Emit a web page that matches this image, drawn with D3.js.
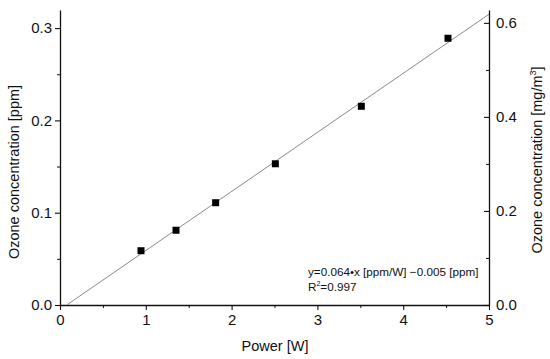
<!DOCTYPE html>
<html>
<head>
<meta charset="utf-8">
<script src="https://cdn.jsdelivr.net/npm/d3@7"></script>
<style>
body { margin: 0; background: #fff; }
svg text { font-family: "Liberation Sans", Arial, sans-serif; fill: #111; }
</style>
</head>
<body>
<div id="chart"></div>
<script>
// data
var power = [0.944, 1.352, 1.814, 2.51, 3.512, 4.522];
var ozonePpm = [0.0588, 0.081, 0.1108, 0.153, 0.2153, 0.289];
var fitSlope = 0.064;
var fitIntercept = -0.005;
var xTicks = [0, 1, 2, 3, 4, 5];
var yTicksLeft = [0.0, 0.1, 0.2, 0.3];
var yTicksRight = [0.0, 0.2, 0.4, 0.6];
var ppmToMg = 1.963;

var svg = d3.select("#chart").append("svg").attr("width", 550).attr("height", 359);

var xScale = d3.scaleLinear().domain([0, 5]).range([60, 489]);
var yScale = d3.scaleLinear().domain([0, 0.3196]).range([305, 10]);
var yScaleR = d3.scaleLinear().domain([0, 0.3196 * ppmToMg]).range([305, 10]);

// minor ticks
svg.append('g').attr('transform', 'translate(0,305)')
    .call(d3.axisBottom(xScale).tickValues(d3.range(0.5, 5, 1)).tickSize(3).tickFormat(''))
    .call(function(g){ g.select('.domain').remove(); });
svg.append('g').attr('transform', 'translate(60,0)')
    .call(d3.axisLeft(yScale).tickValues([0.05, 0.15, 0.25]).tickSize(3).tickFormat(''))
    .call(function(g){ g.select('.domain').remove(); });
svg.append('g').attr('transform', 'translate(489,0)')
    .call(d3.axisLeft(yScaleR).tickValues([0.1, 0.3, 0.5]).tickSize(3).tickFormat(''))
    .call(function(g){ g.select('.domain').remove(); });

// main axes
var xAxis = svg.append('g').attr('transform', 'translate(0,305)')
    .call(d3.axisBottom(xScale).tickValues(xTicks).tickSize(5).tickSizeOuter(0).tickPadding(4).tickFormat(d3.format('d')));
var yAxis = svg.append('g').attr('transform', 'translate(60,0)')
    .call(d3.axisLeft(yScale).tickValues(yTicksLeft).tickSize(5).tickSizeOuter(0).tickPadding(3).tickFormat(d3.format('.1f')));
var yAxisR = svg.append('g').attr('transform', 'translate(489,0)')
    .call(d3.axisRight(yScaleR).tickValues(yTicksRight).tickSize(0).tickSizeOuter(0).tickPadding(7).tickFormat(d3.format('.1f')));
yAxisR.selectAll('.tick line').attr('x2', -5);

[xAxis, yAxis, yAxisR].forEach(function(a){
    a.selectAll('text').attr('font-size', 15).attr('font-family', '"Liberation Sans", Arial, sans-serif').attr('fill', '#111');
    a.select('.domain').attr('stroke', '#111').attr('stroke-width', 1.3);
    a.selectAll('.tick line').attr('stroke', '#111').attr('stroke-width', 1.1);
});
svg.selectAll('.tick line').attr('stroke', '#111');

// fit line
var x0 = -fitIntercept / fitSlope;
svg.append('line')
    .attr('x1', xScale(x0)).attr('y1', yScale(0))
    .attr('x2', xScale(5)).attr('y2', yScale(fitSlope * 5 + fitIntercept))
    .attr('stroke', '#8a8a8a').attr('stroke-width', 1);

// points
var pts = power.map(function(p, i){ return {x: p, y: ozonePpm[i]}; });
svg.selectAll('.pt').data(pts).enter().append('rect')
    .attr('class', 'pt')
    .attr('x', function(d){ return xScale(d.x) - 3.5; })
    .attr('y', function(d){ return yScale(d.y) - 3.5; })
    .attr('width', 7).attr('height', 7)
    .attr('fill', '#000');

// labels
svg.append('text').attr('x', 275).attr('y', 351).attr('text-anchor', 'middle')
    .attr('font-size', 14.5).text('Power [W]');
svg.append('text').attr('transform', 'translate(19,172) rotate(-90)').attr('text-anchor', 'middle')
    .attr('font-size', 14.5).text('Ozone concentration [ppm]');
var rl = svg.append('text').attr('transform', 'translate(542,160) rotate(-90)').attr('text-anchor', 'middle')
    .attr('font-size', 14.5);
rl.append('tspan').text('Ozone concentration [mg/m');
rl.append('tspan').attr('font-size', 9).attr('dy', -6).text('3');
rl.append('tspan').attr('dy', 6).text(']');

// fit annotation
svg.append('text').attr('x', 308).attr('y', 276).attr('font-size', 11.7)
    .text('y=0.064\u2022x [ppm/W] \u22120.005 [ppm]');
var r2 = svg.append('text').attr('x', 308).attr('y', 291).attr('font-size', 11.7);
r2.append('tspan').text('R');
r2.append('tspan').attr('font-size', 7).attr('dy', -5).text('2');
r2.append('tspan').attr('dy', 5).text('=0.997');
</script>
</body>
</html>
